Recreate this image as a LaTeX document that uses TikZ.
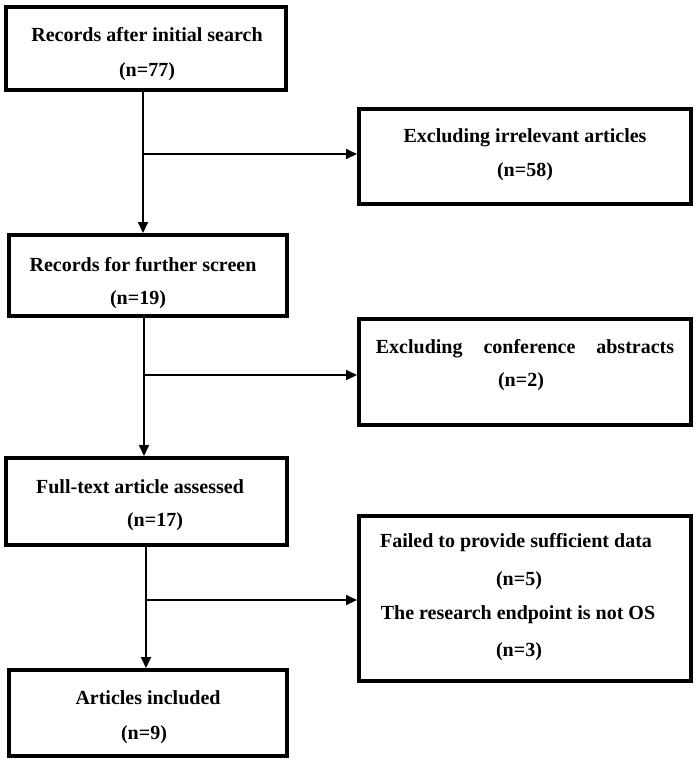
\documentclass[tikz,border=0pt]{standalone}
\usepackage{fontspec}
\setmainfont{Liberation Serif}
\usetikzlibrary{arrows.meta}
\begin{document}
\begin{tikzpicture}[x=1pt,y=-1pt,
  box/.style={draw=black,line width=4pt,fill=none,inner sep=0pt},
  txt/.style={font=\fontsize{20}{24}\selectfont\bfseries,inner sep=0pt},
  arr/.style={line width=2pt,-{Triangle[length=11pt,width=10pt]}}]
\useasboundingbox (0,0) rectangle (697,764);
% boxes
\node[box,minimum width=280pt,minimum height=83pt] (b1) at (146,48.5) {};
\node[box,minimum width=332pt,minimum height=95pt] (b2) at (525,156.5) {};
\node[box,minimum width=278pt,minimum height=81pt] (b3) at (148,275.5) {};
\node[box,minimum width=332pt,minimum height=106pt] (b4) at (525,372) {};
\node[box,minimum width=281pt,minimum height=87pt] (b5) at (146.5,501.5) {};
\node[box,minimum width=332pt,minimum height=165pt] (b6) at (525,598.5) {};
\node[box,minimum width=278pt,minimum height=86pt] (b7) at (148,713) {};
% texts
\node[txt] (t1a) at (147,35) {Records after initial search};
\node[txt] (t1b) at (147,72) {(n=77)};
\node[txt] (t2a) at (525,138) {Excluding irrelevant articles};
\node[txt] (t2b) at (525,172) {(n=58)};
\node[txt] (t3a) at (143,265) {Records for further screen};
\node[txt] (t3b) at (138,300) {(n=19)};
\node[txt] (t4a) at (525,349) {Excluding\hspace{21pt}conference\hspace{21pt}abstracts};
\node[txt] (t4b) at (521,382) {(n=2)};
\node[txt] (t5a) at (140,487) {Full-text article assessed};
\node[txt] (t5b) at (155,522) {(n=17)};
\node[txt] (t6a) at (516,543) {Failed to provide sufficient data};
\node[txt] (t6b) at (519,581) {(n=5)};
\node[txt] (t6c) at (518,615) {The research endpoint is not OS};
\node[txt] (t6d) at (519,652) {(n=3)};
\node[txt] (t7a) at (148,698) {Articles included};
\node[txt] (t7b) at (144,735) {(n=9)};
% connectors
\coordinate (j1) at (143,154);
\coordinate (j2) at (144,375);
\coordinate (j3) at (146,600);
\draw[arr] (j1 |- b1.south) -- (j1 |- b3.north);
\draw[arr] (j1) -- (j1 -| b2.west);
\draw[arr] (j2 |- b3.south) -- (j2 |- b5.north);
\draw[arr] (j2) -- (j2 -| b4.west);
\draw[arr] (j3 |- b5.south) -- (j3 |- b7.north);
\draw[arr] (j3) -- (j3 -| b6.west);
\end{tikzpicture}
\end{document}
